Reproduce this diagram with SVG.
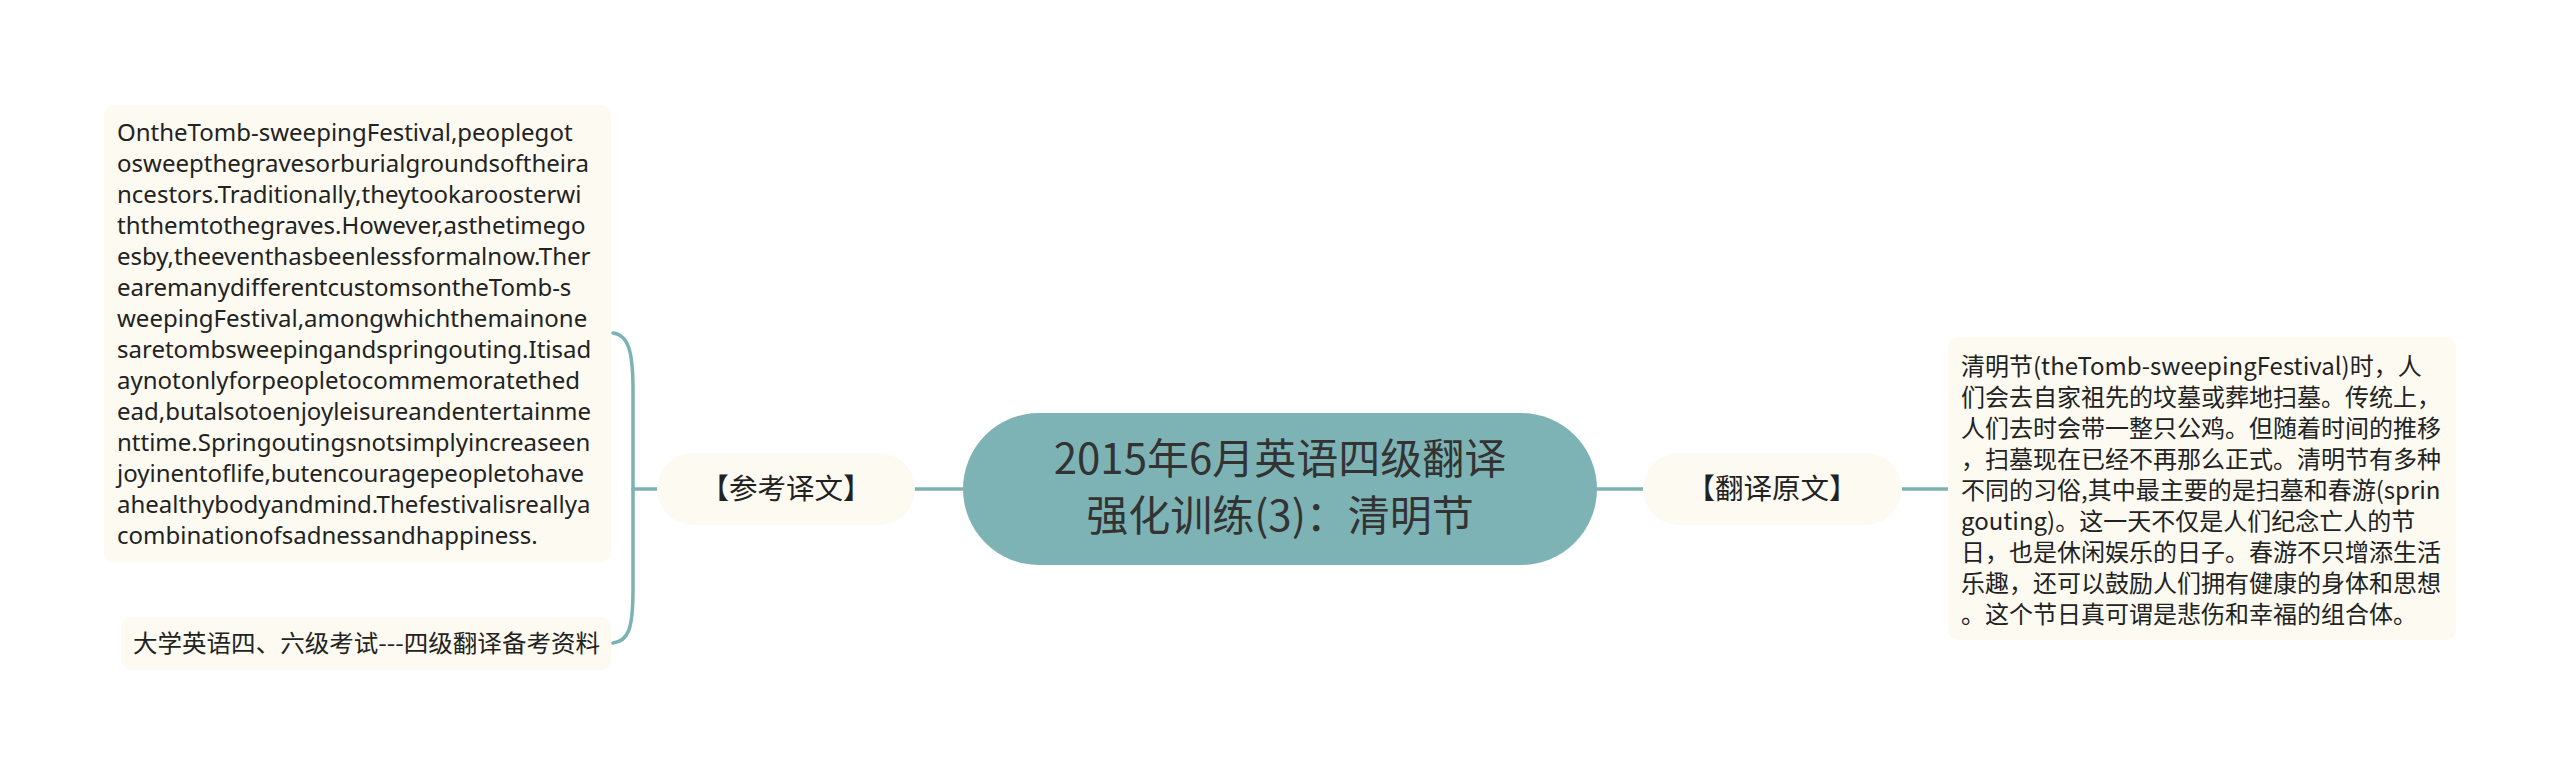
<svg xmlns="http://www.w3.org/2000/svg" width="2560" height="775" viewBox="0 0 2560 775">
<style>
.conn{fill:none;stroke:#7db2b4;stroke-width:3.5;stroke-linecap:round}
.box{fill:#fcfaf1}
.center{fill:#7db3b5}
.t{font-family:"Noto Sans","Noto Sans CJK SC",sans-serif;fill:#222}
.cjk{font-family:"Noto Sans CJK SC",sans-serif;fill:#222}
.title{font-family:"Noto Sans CJK SC",sans-serif;fill:#333;font-size:42px}
.br{font-family:"Noto Sans CJK SC",sans-serif;fill:#222;font-size:28.5px}
.body{font-size:24px}
</style>
<rect width="2560" height="775" fill="#ffffff"/>
<g id="connectors">
<path class="conn" d="M915 489 L963 489"/>
<path class="conn" d="M1597 489 L1643 489"/>
<path class="conn" d="M1902 489 L1948 489"/>
<path class="conn" d="M657 489 L633 489"/>
<path class="conn" d="M633 489 L633 390 C633 350 628 335 613 333"/>
<path class="conn" d="M633 489 L633 590 C633 630 628 641 613 643"/>
</g>
<g id="center">
<rect class="center" x="963" y="413" width="634" height="152" rx="76"/>
<text class="title" x="1280" y="474" text-anchor="middle">2015年6月英语四级翻译</text>
<text class="title" x="1280" y="531" text-anchor="middle">强化训练(3)：清明节</text>
</g>
<g id="node-ref">
<rect class="box" x="657" y="453" width="258" height="72" rx="36"/>
<text class="br" x="786" y="499" text-anchor="middle">【参考译文】</text>
</g>
<g id="node-orig">
<rect class="box" x="1643" y="453" width="259" height="72" rx="36"/>
<text class="br" x="1772" y="499" text-anchor="middle">【翻译原文】</text>
</g>
<g id="node-en">
<rect class="box" x="104" y="105" width="507" height="457" rx="10"/>
<text class="t body" x="117">
<tspan x="117" y="141">OntheTomb-sweepingFestival,peoplegot</tspan>
<tspan x="117" y="172">osweepthegravesorburialgroundsoftheira</tspan>
<tspan x="117" y="203">ncestors.Traditionally,theytookaroosterwi</tspan>
<tspan x="117" y="234">ththemtothegraves.However,asthetimego</tspan>
<tspan x="117" y="265">esby,theeventhasbeenlessformalnow.Ther</tspan>
<tspan x="117" y="296">earemanydifferentcustomsontheTomb-s</tspan>
<tspan x="117" y="327">weepingFestival,amongwhichthemainone</tspan>
<tspan x="117" y="358">saretombsweepingandspringouting.Itisad</tspan>
<tspan x="117" y="389">aynotonlyforpeopletocommemoratethed</tspan>
<tspan x="117" y="420">ead,butalsotoenjoyleisureandentertainme</tspan>
<tspan x="117" y="451">nttime.Springoutingsnotsimplyincreaseen</tspan>
<tspan x="117" y="482">joyinentoflife,butencouragepeopletohave</tspan>
<tspan x="117" y="513">ahealthybodyandmind.Thefestivalisreallya</tspan>
<tspan x="117" y="544">combinationofsadnessandhappiness.</tspan>
</text>
</g>
<g id="node-src">
<rect class="box" x="121" y="617" width="490" height="53" rx="10"/>
<text class="cjk body" x="133" y="652" textLength="467" lengthAdjust="spacingAndGlyphs">大学英语四、六级考试---四级翻译备考资料</text>
</g>
<g id="node-cn">
<rect class="box" x="1948" y="337" width="508" height="303" rx="10"/>
<text class="cjk body">
<tspan x="1961" y="375">清明节(theTomb-sweepingFestival)时，人</tspan>
<tspan x="1961" y="406">们会去自家祖先的坟墓或葬地扫墓。传统上，</tspan>
<tspan x="1961" y="437">人们去时会带一整只公鸡。但随着时间的推移</tspan>
<tspan x="1961" y="468">，扫墓现在已经不再那么正式。清明节有多种</tspan>
<tspan x="1961" y="499">不同的习俗,其中最主要的是扫墓和春游(sprin</tspan>
<tspan x="1961" y="530">gouting)。这一天不仅是人们纪念亡人的节</tspan>
<tspan x="1961" y="561">日，也是休闲娱乐的日子。春游不只增添生活</tspan>
<tspan x="1961" y="592">乐趣，还可以鼓励人们拥有健康的身体和思想</tspan>
<tspan x="1961" y="623">。这个节日真可谓是悲伤和幸福的组合体。</tspan>
</text>
</g>
</svg>
